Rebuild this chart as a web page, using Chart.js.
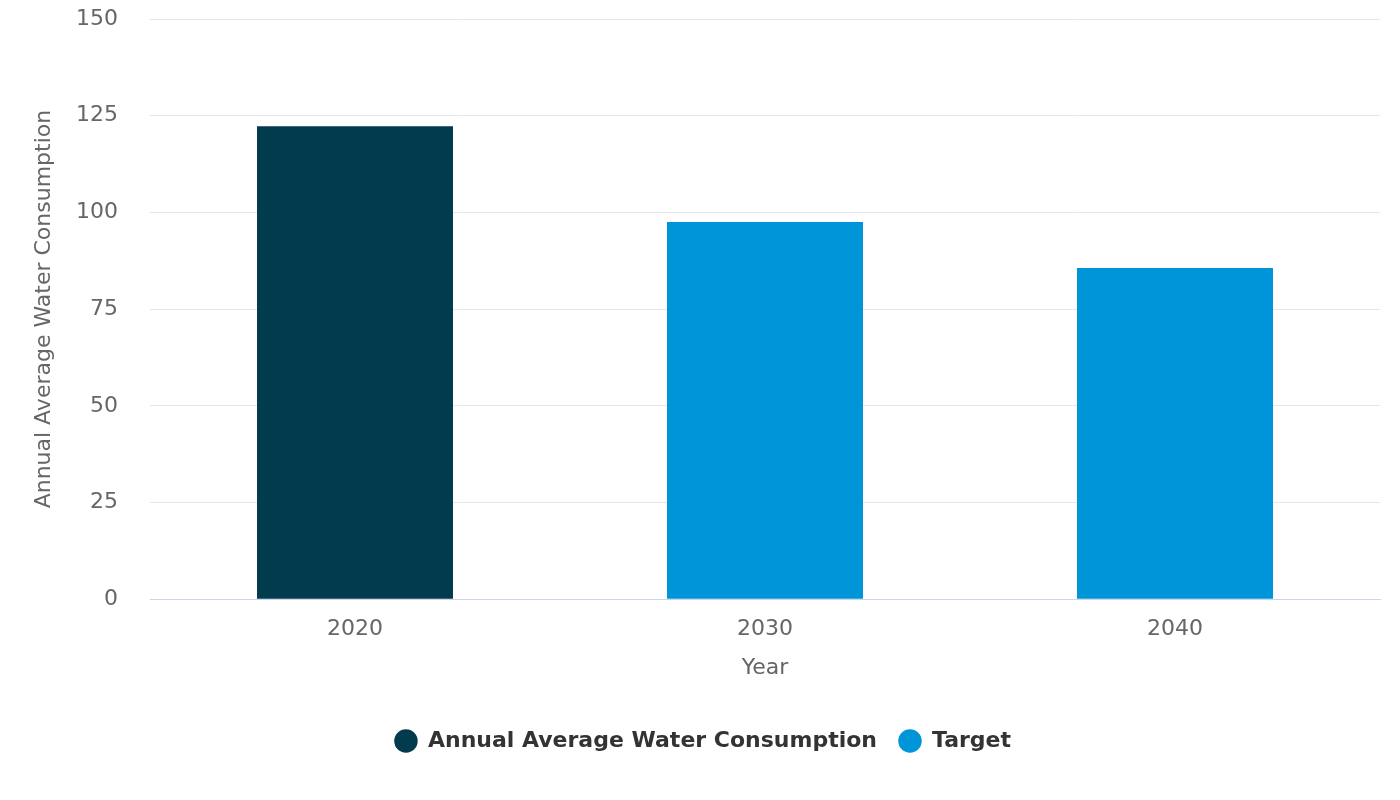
<!DOCTYPE html>
<html>
<head>
<meta charset="utf-8">
<script src="https://cdn.jsdelivr.net/npm/chart.js@4/dist/chart.umd.min.js"></script>
<style>
	html, body { margin: 0; padding: 0; background: #ffffff; }
	#wrap { width: 1400px; height: 800px; position: relative; }
</style>
</head>
<body>
<div id="wrap"><canvas id="waterChart"></canvas></div>
<script>
var years = ['2020', '2030', '2040'];
var consumptionValues = [122.3, null, null];
var targetValues = [null, 97.5, 85.6];
var yTicks = [0, 25, 50, 75, 100, 125, 150];

var darkBlue = '#023A4E';
var lightBlue = '#0094D9';

Chart.defaults.font.family = "'DejaVu Sans', sans-serif";

function makeWaterChart(id) {
	var data = {
		'labels': years,
		'datasets': [{
			'label': 'Annual Average Water Consumption',
			'data': consumptionValues,
			'backgroundColor': darkBlue,
			'borderWidth': 0
		}, {
			'label': 'Target',
			'data': targetValues,
			'backgroundColor': lightBlue,
			'borderWidth': 0
		}]
	};

	var options = {
		'responsive': true,
		'maintainAspectRatio': false,
		'animation': false,
		'layout': { 'padding': { 'top': 0, 'right': 20, 'left': 26, 'bottom': 38 } },
		'datasets': { 'bar': { 'categoryPercentage': 1, 'barPercentage': 0.478 } },
		'scales': {
			'x': {
				'stacked': true,
				'grid': { 'display': false, 'drawTicks': false },
				'border': { 'color': '#ccd6eb', 'width': 1 },
				'ticks': { 'color': '#666666', 'font': { 'size': 22 }, 'padding': 17 },
				'title': { 'display': true, 'text': 'Year', 'color': '#666666', 'font': { 'size': 22 }, 'padding': { 'top': -5, 'bottom': 27 } }
			},
			'y': {
				'min': 0,
				'max': 150,
				'afterBuildTicks': function (axis) {
					axis.ticks = yTicks.map(function (v) { return { 'value': v }; });
				},
				// fixed width and top gap so the plot sits where the original does
				'afterFit': function (axis) {
					axis.width = 124;
					axis.paddingTop = 19;
					axis.paddingBottom = 13;
				},
				'grid': { 'color': '#e6e6e6', 'drawTicks': false, 'lineWidth': 1 },
				'border': { 'display': false },
				'ticks': { 'color': '#666666', 'font': { 'size': 22 }, 'padding': 32 },
				'title': { 'display': true, 'text': 'Annual Average Water Consumption', 'color': '#666666', 'font': { 'size': 22 }, 'padding': { 'top': 5, 'bottom': 0 } }
			}
		},
		'plugins': {
			'legend': {
				'position': 'bottom',
				'labels': {
					'usePointStyle': true,
					'pointStyle': 'circle',
					'boxWidth': 22,
					'boxHeight': 16.6,
					'color': '#333333',
					'padding': 22,
					'font': { 'size': 22, 'weight': 'bold' }
				}
			},
			'tooltip': { 'enabled': false }
		}
	};

	return new Chart(document.getElementById(id), { 'type': 'bar', 'data': data, 'options': options });
}

makeWaterChart('waterChart');
</script>
</body>
</html>
